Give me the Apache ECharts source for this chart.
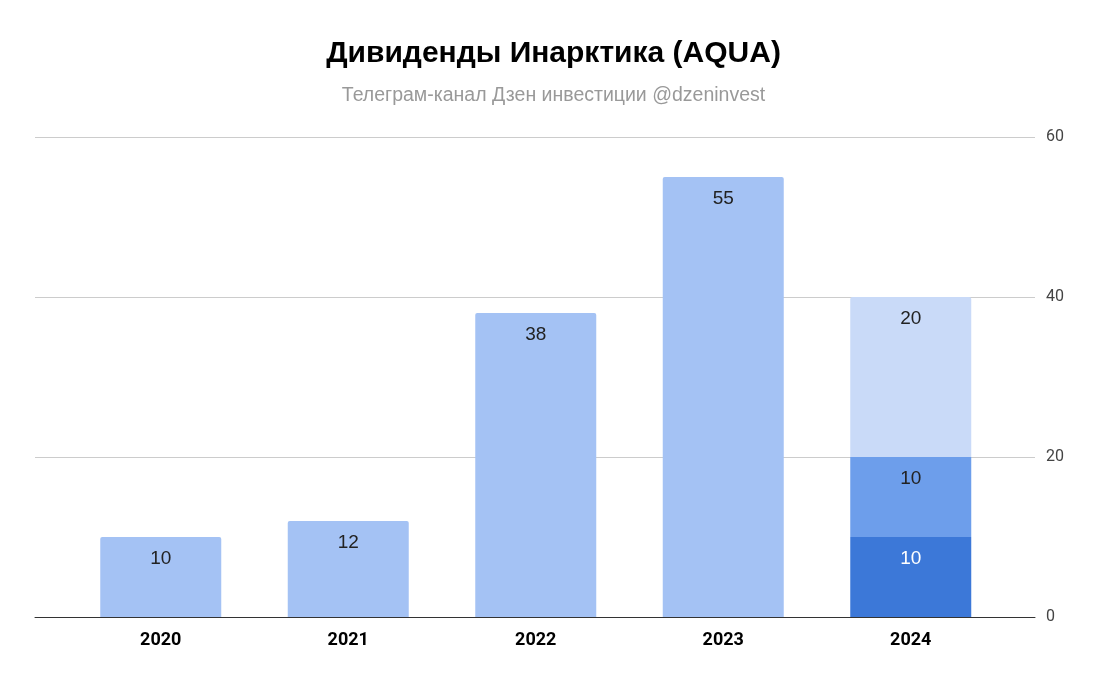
<!DOCTYPE html>
<html>
<head>
<meta charset="utf-8">
<script src="https://cdn.jsdelivr.net/npm/echarts@6/dist/echarts.min.js"></script>
<style>
  html, body { margin: 0; padding: 0; background: #fff; }
  #chart { width: 1107px; height: 686px; }
</style>
</head>
<body>
<div id="chart"></div>
<script>
// данные
const years = ['2020', '2021', '2022', '2023', '2024']
const paid = [10, 12, 38, 55, 10]        // основной столбец
const part2 = [null, null, null, null, 10] // 2024, вторая часть
const part3 = [null, null, null, null, 20] // 2024, третья часть
const yTicks = [0, 20, 40, 60]

const FONT = 'Roboto, Arial, sans-serif'
const ARIAL = '"Liberation Sans", Arial, sans-serif'
const LIGHT = '#a4c2f4'

const labelStyle = (color) => ({
  show: true,
  position: 'insideTop',
  distance: 12,
  fontFamily: ARIAL,
  fontSize: 19,
  color: color,
  formatter: (p) => p.value
})

const chart = echarts.init(document.getElementById('chart'))

chart.setOption({
  animation: false,
  title: [
    {
      text: 'Дивиденды Инарктика (AQUA)',
      left: 'center',
      top: 34,
      textStyle: { fontFamily: ARIAL, fontSize: 30, fontWeight: 'bold', color: '#000' }
    },
    {
      text: 'Телеграм-канал Дзен инвестиции @dzeninvest',
      left: 'center',
      top: 81,
      textStyle: { fontFamily: ARIAL, fontSize: 19.5, fontWeight: 'normal', color: '#999' }
    }
  ],
  grid: [
    // сетка на всю ширину
    { left: 35, right: 72, top: 137, bottom: 69 },
    // столбцы
    { left: 67, right: 102.5, top: 137, bottom: 69 }
  ],
  xAxis: [
    {
      gridIndex: 0,
      type: 'value',
      min: 0,
      max: 1,
      axisLine: { show: true, onZero: true, lineStyle: { color: '#333', width: 1 } },
      axisTick: { show: false },
      axisLabel: { show: false },
      splitLine: { show: false }
    },
    {
      gridIndex: 1,
      type: 'category',
      data: years,
      axisLine: { show: false },
      axisTick: { show: false },
      axisLabel: { margin: 14, fontFamily: FONT, fontSize: 18, fontWeight: 'bold', color: '#000' }
    }
  ],
  yAxis: [
    {
      gridIndex: 0,
      type: 'value',
      position: 'right',
      min: yTicks[0],
      max: yTicks[yTicks.length - 1],
      interval: 20,
      axisLine: { show: false },
      axisTick: { show: false },
      axisLabel: { margin: 11, fontFamily: FONT, fontSize: 16, color: '#444' },
      splitLine: { lineStyle: { color: '#ccc', width: 1 } }
    },
    {
      gridIndex: 1,
      type: 'value',
      min: 0,
      max: 60,
      show: false
    }
  ],
  series: [
    {
      type: 'bar',
      xAxisIndex: 1,
      yAxisIndex: 1,
      stack: 'div',
      barWidth: 121,
      data: paid.map((v, i) => i === 4
        ? { value: v, itemStyle: { color: '#3c78d8', borderRadius: 0 }, label: { color: '#fff' } }
        : v),
      itemStyle: { color: LIGHT, borderRadius: [2, 2, 0, 0] },
      label: labelStyle('#222')
    },
    {
      type: 'bar',
      xAxisIndex: 1,
      yAxisIndex: 1,
      stack: 'div',
      barWidth: 121,
      data: part2,
      itemStyle: { color: '#6d9eeb' },
      label: labelStyle('#222')
    },
    {
      type: 'bar',
      xAxisIndex: 1,
      yAxisIndex: 1,
      stack: 'div',
      barWidth: 121,
      data: part3,
      itemStyle: { color: '#c9daf8', borderRadius: [2, 2, 0, 0] },
      label: labelStyle('#222')
    }
  ]
})
</script>
</body>
</html>
